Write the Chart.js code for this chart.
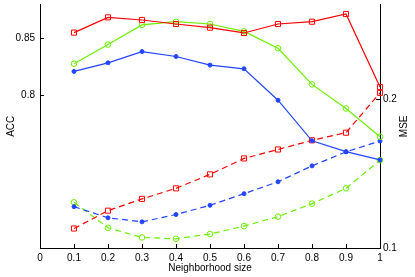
<!DOCTYPE html>
<html>
<head>
<meta charset="utf-8">
<script src="https://cdn.jsdelivr.net/npm/chart.js@4.4.1/dist/chart.umd.min.js"></script>
<style>
  html, body { margin: 0; padding: 0; background: #ffffff; }
  #wrap { width: 415px; height: 277px; }
</style>
</head>
<body>
<div id="wrap"><canvas id="chart" width="415" height="277"></canvas></div>
<script>
// Data
const neighborhoodSize = [0.1, 0.2, 0.3, 0.4, 0.5, 0.6, 0.7, 0.8, 0.9, 1.0];

// ACC (left axis, solid lines)
const accRed   = [0.8546, 0.8679, 0.8656, 0.8621, 0.8589, 0.8543, 0.8621, 0.8641, 0.8708, 0.8072];
const accGreen = [0.8275, 0.8442, 0.8613, 0.8641, 0.8621, 0.8557, 0.8410, 0.8095, 0.7885, 0.7639];
const accBlue  = [0.8208, 0.8283, 0.8381, 0.8338, 0.8263, 0.8231, 0.7957, 0.7604, 0.7509, 0.7437];

// MSE (right axis, dashed lines)
const mseRed   = [0.1131, 0.1251, 0.1330, 0.1401, 0.1495, 0.1602, 0.1662, 0.1724, 0.1775, 0.2043];
const mseGreen = [0.1307, 0.1136, 0.1071, 0.1062, 0.1094, 0.1147, 0.1211, 0.1298, 0.1401, 0.1590];
const mseBlue  = [0.1278, 0.1203, 0.1176, 0.1225, 0.1287, 0.1365, 0.1445, 0.1552, 0.1646, 0.1719];

// Tick values and labels
const xTicks = [0, 0.1, 0.2, 0.3, 0.4, 0.5, 0.6, 0.7, 0.8, 0.9, 1];
const xTickLabels = ['0', '0.1', '0.2', '0.3', '0.4', '0.5', '0.6', '0.7', '0.8', '0.9', '1'];
const accTicks = [0.8, 0.85];
const accTickLabels = ['0.8', '0.85'];
const mseTicks = [0.1, 0.2];
const mseTickLabels = ['0.1', '0.2'];

const RED = '#ff0000';
const GREEN = '#6cf000';
const BLUE = '#2244ff';
const FONT = { family: '"Liberation Sans", Arial, Helvetica, sans-serif', size: 10 };

const toPoints = vals => vals.map((v, i) => ({ x: neighborhoodSize[i], y: v }));

function series(values, color, axis, dashed, style) {
    const s = {
        data: toPoints(values),
        yAxisID: axis,
        borderColor: color,
        borderWidth: 1.2,
        borderDash: dashed ? [6, 4] : [],
        tension: 0,
        clip: false,
        pointBorderColor: color,
        pointBorderWidth: 1,
        pointHoverRadius: 0
    };
    if (style === 'square') {
        s.pointStyle = 'rect';
        s.pointRadius = 3.6;
        s.pointBackgroundColor = 'rgba(0,0,0,0)';
    } else if (style === 'circle') {
        s.pointStyle = 'circle';
        s.pointRadius = 2.8;
        s.pointBackgroundColor = 'rgba(0,0,0,0)';
    } else {
        s.pointStyle = 'circle';
        s.pointRadius = 2;
        s.pointBackgroundColor = color;
    }
    return s;
}

// y scales: fixed width, and no extra room reserved for half tick labels
const fitY = width => scale => {
    scale.width = width;
    scale.paddingTop = 0;
    scale.paddingBottom = 0;
};

// Inward tick marks (MATLAB style) and the rotated MSE label
const axisDecor = {
    id: 'axisDecor',
    afterDraw(chart) {
        const ctx = chart.ctx;
        const area = chart.chartArea;
        const len = 4;
        ctx.save();
        ctx.strokeStyle = '#000000';
        ctx.lineWidth = 1;
        ctx.beginPath();
        chart.scales.x.ticks.forEach(t => {
            const px = Math.round(chart.scales.x.getPixelForValue(t.value)) + 0.5;
            ctx.moveTo(px, area.bottom);
            ctx.lineTo(px, area.bottom - len);
        });
        chart.scales.yAcc.ticks.forEach(t => {
            const py = Math.round(chart.scales.yAcc.getPixelForValue(t.value)) + 0.5;
            ctx.moveTo(area.left, py);
            ctx.lineTo(area.left + len, py);
        });
        chart.scales.yMse.ticks.forEach(t => {
            const py = Math.round(chart.scales.yMse.getPixelForValue(t.value)) + 0.5;
            ctx.moveTo(area.right, py);
            ctx.lineTo(area.right - len, py);
        });
        ctx.stroke();

        // right axis title, reading bottom to top
        ctx.fillStyle = '#000000';
        ctx.font = FONT.size + 'px ' + FONT.family;
        ctx.textAlign = 'center';
        ctx.textBaseline = 'middle';
        ctx.translate(404.5, (area.top + area.bottom) / 2);
        ctx.rotate(-Math.PI / 2);
        ctx.fillText('MSE', 0, 0);
        ctx.restore();
    }
};

new Chart(document.getElementById('chart'), {
    type: 'line',
    data: {
        datasets: [
            series(accRed, RED, 'yAcc', false, 'square'),
            series(accGreen, GREEN, 'yAcc', false, 'circle'),
            series(accBlue, BLUE, 'yAcc', false, 'dot'),
            series(mseRed, RED, 'yMse', true, 'square'),
            series(mseBlue, BLUE, 'yMse', true, 'dot'),
            series(mseGreen, GREEN, 'yMse', true, 'circle')
        ]
    },
    options: {
        responsive: false,
        devicePixelRatio: 1,
        animation: false,
        layout: { padding: { top: 3, left: 0, right: 0, bottom: 0 } },
        plugins: {
            legend: { display: false },
            tooltip: { enabled: false }
        },
        scales: {
            x: {
                type: 'linear',
                min: 0,
                max: 1,
                afterBuildTicks: scale => { scale.ticks = xTicks.map(v => ({ value: v })); },
                afterFit: scale => { scale.height = 29; },
                grid: { display: false, drawTicks: false },
                border: { display: true, color: '#000000', width: 1 },
                ticks: {
                    color: '#000000',
                    font: FONT,
                    padding: 4,
                    maxRotation: 0,
                    autoSkip: false,
                    callback: (v, i) => xTickLabels[i]
                },
                title: {
                    display: true,
                    text: 'Neighborhood size',
                    color: '#000000',
                    font: FONT,
                    padding: { top: 0, bottom: 3 }
                }
            },
            yAcc: {
                type: 'linear',
                position: 'left',
                min: 0.667,
                max: 0.879,
                afterBuildTicks: scale => { scale.ticks = accTicks.map(v => ({ value: v })); },
                afterFit: fitY(40),
                grid: { display: false, drawTicks: false },
                border: { display: true, color: '#000000', width: 1 },
                ticks: {
                    color: '#000000',
                    font: FONT,
                    padding: 5,
                    callback: (v, i) => accTickLabels[i]
                },
                title: {
                    display: true,
                    text: 'ACC',
                    color: '#000000',
                    font: FONT,
                    padding: { top: 5, bottom: 0 }
                }
            },
            yMse: {
                type: 'linear',
                position: 'right',
                min: 0.1,
                max: 0.2636,
                afterBuildTicks: scale => { scale.ticks = mseTicks.map(v => ({ value: v })); },
                afterFit: fitY(35),
                grid: { display: false, drawTicks: false },
                border: { display: true, color: '#000000', width: 1 },
                ticks: {
                    color: '#000000',
                    font: FONT,
                    padding: 3,
                    callback: (v, i) => mseTickLabels[i]
                }
            }
        }
    },
    plugins: [axisDecor]
});
</script>
</body>
</html>
